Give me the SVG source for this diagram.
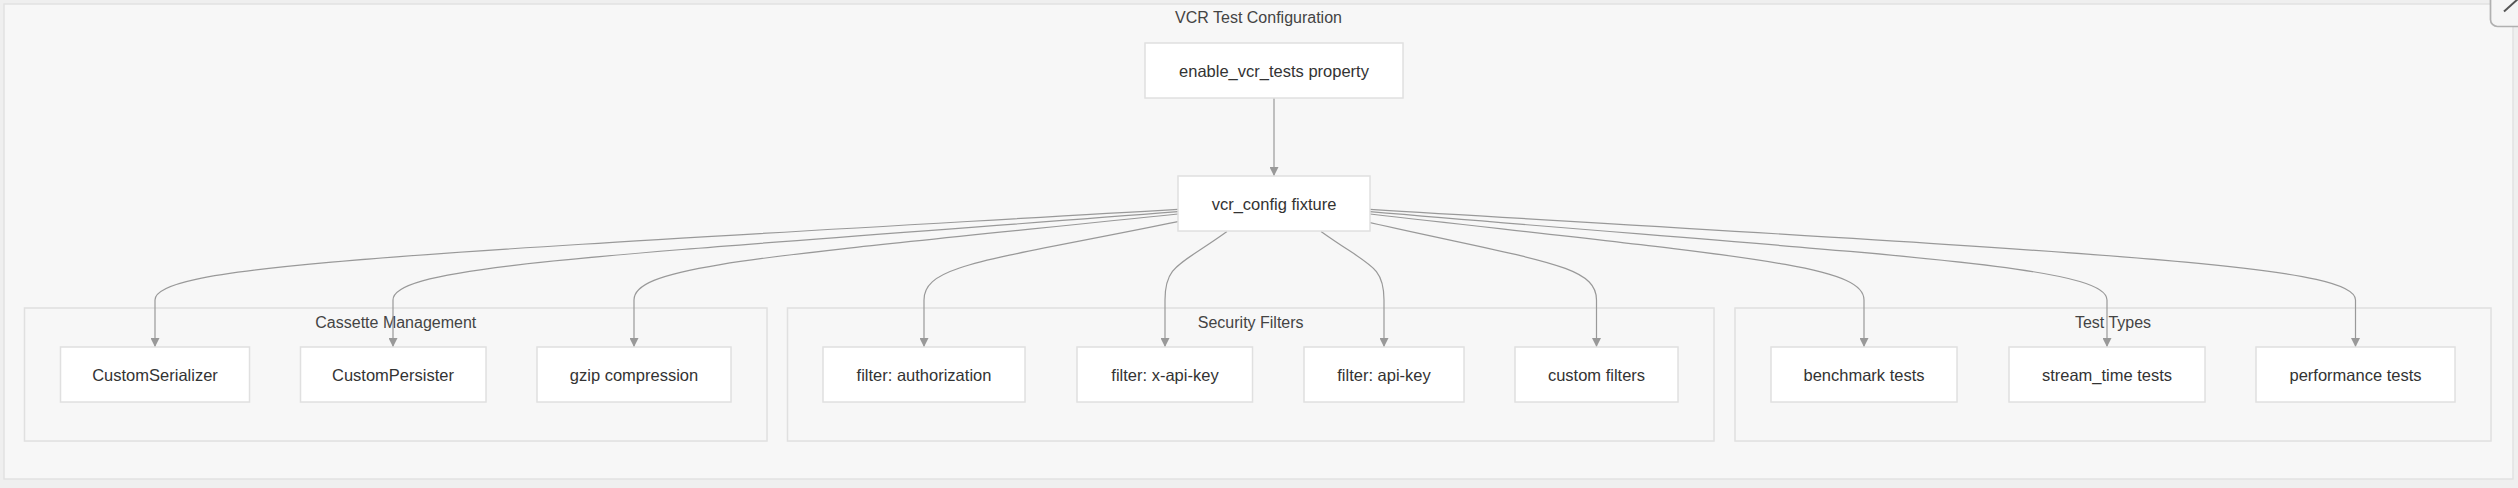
<svg xmlns="http://www.w3.org/2000/svg" width="2518" height="488" viewBox="0 0 2518 488">
<defs>
<style>
.bg{fill:#efefef}
.outer{fill:#f7f7f7;stroke:#e2e2e2;stroke-width:1.5}
.cluster{fill:#f7f7f7;stroke:#e0e0e0;stroke-width:1.5}
.node rect{fill:#ffffff;stroke:#e0e0e0;stroke-width:1.5}
.node text{font-family:"Liberation Sans",Arial,sans-serif;font-size:16.5px;fill:#333333;text-anchor:middle}
.ctitle{font-family:"Liberation Sans",Arial,sans-serif;font-size:16px;fill:#444444;text-anchor:middle}
.edges path{fill:none;stroke:#999999;stroke-width:1.2;marker-end:url(#arrow)}
</style>
<marker id="arrow" viewBox="0 0 10 10" refX="10" refY="5" markerWidth="9" markerHeight="9" markerUnits="userSpaceOnUse" orient="auto">
<path d="M0,0 L10,5 L0,10 z" fill="#999999"/>
</marker>
</defs>
<rect class="bg" x="0" y="0" width="2518" height="488"/>
<g id="vcr-test-configuration">
<rect class="outer" x="4" y="4" width="2509" height="475"/>
<text class="ctitle" x="1258.5" y="23">VCR Test Configuration</text>
</g>
<g id="cassette-management">
<rect class="cluster" x="24.5" y="308" width="742.5" height="133"/>
<text class="ctitle" x="395.8" y="327.5">Cassette Management</text>
</g>
<g id="security-filters">
<rect class="cluster" x="787.5" y="308" width="926.5" height="133"/>
<text class="ctitle" x="1250.7" y="327.5">Security Filters</text>
</g>
<g id="test-types">
<rect class="cluster" x="1735" y="308" width="756" height="133"/>
<text class="ctitle" x="2113" y="327.5">Test Types</text>
</g>
<g class="edges" id="connectors">
<path d="M1274,98 L1274,176"/>
<path d="M1178,209.3 C400,254.6 155,265 155,300 L155,347"/>
<path d="M1178,211.7 C606,255.8 393,265 393,300 L393,347"/>
<path d="M1178,214 C764,257 634,265 634,300 L634,347"/>
<path d="M1178,221.7 C985,260.9 924,265 924,300 L924,347"/>
<path d="M1227,231.5 C1179,266 1165,265 1165,300 L1165,347"/>
<path d="M1321,231.5 C1369,266 1384,265 1384,300 L1384,347"/>
<path d="M1370,222.7 C1542,261.4 1596.5,265 1596.5,300 L1596.5,347"/>
<path d="M1370,214 C1747,257 1864,265 1864,300 L1864,347"/>
<path d="M1370,211.7 C1889,255.8 2107,265 2107,300 L2107,347"/>
<path d="M1370,209.3 C2119,254.6 2355.5,265 2355.5,300 L2355.5,347"/>
</g>
<g class="node" id="enable_vcr_tests">
<rect x="1145" y="43" width="258" height="55"/>
<text x="1274" y="77">enable_vcr_tests property</text>
</g>
<g class="node" id="vcr_config">
<rect x="1178" y="176" width="192" height="55"/>
<text x="1274" y="210">vcr_config fixture</text>
</g>
<g class="node" id="custom_serializer">
<rect x="60.5" y="347" width="189" height="55"/>
<text x="155" y="381">CustomSerializer</text>
</g>
<g class="node" id="custom_persister">
<rect x="300.5" y="347" width="185.5" height="55"/>
<text x="393" y="381">CustomPersister</text>
</g>
<g class="node" id="gzip">
<rect x="537" y="347" width="194" height="55"/>
<text x="634" y="381">gzip compression</text>
</g>
<g class="node" id="filter_authorization">
<rect x="823" y="347" width="202" height="55"/>
<text x="924" y="381">filter: authorization</text>
</g>
<g class="node" id="filter_x_api_key">
<rect x="1077" y="347" width="175.5" height="55"/>
<text x="1165" y="381">filter: x-api-key</text>
</g>
<g class="node" id="filter_api_key">
<rect x="1304" y="347" width="160" height="55"/>
<text x="1384" y="381">filter: api-key</text>
</g>
<g class="node" id="custom_filters">
<rect x="1515" y="347" width="163" height="55"/>
<text x="1596.5" y="381">custom filters</text>
</g>
<g class="node" id="benchmark_tests">
<rect x="1771" y="347" width="186" height="55"/>
<text x="1864" y="381">benchmark tests</text>
</g>
<g class="node" id="stream_time_tests">
<rect x="2009" y="347" width="196" height="55"/>
<text x="2107" y="381">stream_time tests</text>
</g>
<g class="node" id="performance_tests">
<rect x="2256" y="347" width="199" height="55"/>
<text x="2355.5" y="381">performance tests</text>
</g>
<g id="corner-button">
<rect x="2490.5" y="-20" width="40" height="46.5" rx="7" fill="#f5f5f5" stroke="#b0b0b0" stroke-width="1.7"/>
<line x1="2504" y1="11.5" x2="2518" y2="-1" stroke="#555555" stroke-width="2"/>
</g>
</svg>
